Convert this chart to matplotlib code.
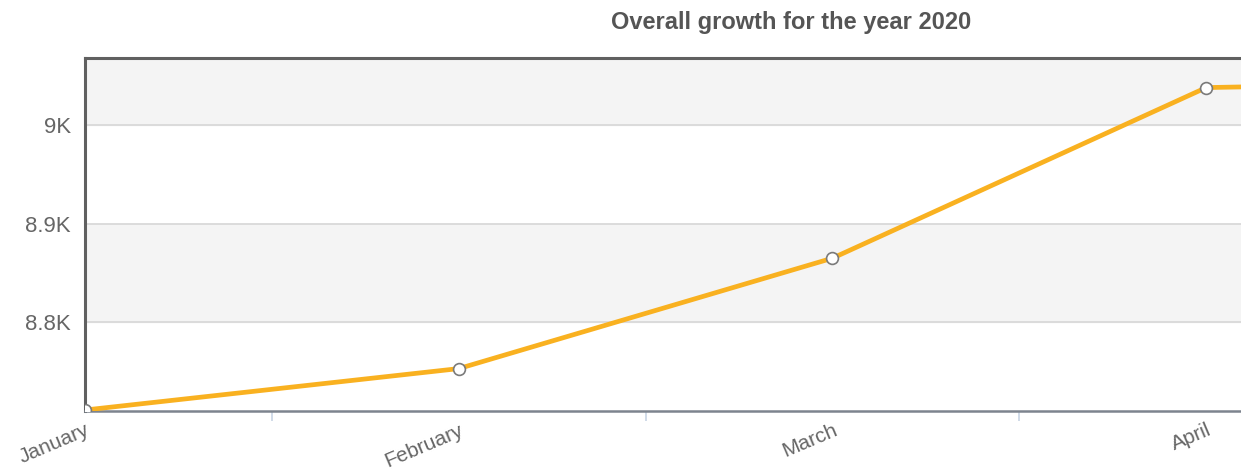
import matplotlib.pyplot as plt

months = ["January", "February", "March", "April", "May"]
growth = [8711, 8753, 8865, 9038, 9045]
ytick_vals = [8800, 8900, 9000]
ytick_labels = ["8.8K", "8.9K", "9K"]

plt.rcParams['font.family'] = ['Liberation Sans', 'DejaVu Sans']

fig = plt.figure(figsize=(12.41, 4.75), dpi=100)
ax = fig.add_axes([85 / 1241, 1 - 411 / 475, 1 - 85 / 1241, (411 - 58) / 475])

x = list(range(len(months)))
ax.plot(x, growth, color="#f9b120", lw=3.4, marker="o", ms=8.5,
        mfc="white", mec="#7a7a7a", mew=1.2, zorder=3)

ax.set_xlim(0, 3.093)
ax.set_ylim(8710, 9068)

# alternating bands
ax.axhspan(9000, 9068, color="#f4f4f4", zorder=0)
ax.axhspan(8800, 8900, color="#f4f4f4", zorder=0)
for v in ytick_vals:
    ax.axhline(v, color="#d6d6d6", lw=1.2, zorder=1)

ax.set_yticks(ytick_vals)
ax.set_yticklabels(ytick_labels, fontsize=16, color="#666666")
ax.tick_params(axis="y", length=0, pad=10)

ax.set_xticks(x[:4])
ax.set_xticklabels(months[:4], rotation=23, ha="right", rotation_mode="anchor",
                   fontsize=15, color="#666666")
ax.set_xticks([0.5, 1.5, 2.5], minor=True)
ax.tick_params(axis="x", which="major", length=0, pad=7)
ax.tick_params(axis="x", which="minor", length=7, color="#c8d4e4", width=1.2)

for s in ["left", "top"]:
    ax.spines[s].set_color("#606060")
    ax.spines[s].set_linewidth(2.2)
ax.spines["bottom"].set_color("#7d848e")
ax.spines["bottom"].set_linewidth(1.8)
ax.spines["right"].set_visible(False)

fig.text(791 / 1241, 1 - 22 / 475, "Overall growth for the year 2020",
         ha="center", va="center", fontsize=17, fontweight="bold", color="#555555")

fig.savefig("out.png", dpi=100)
